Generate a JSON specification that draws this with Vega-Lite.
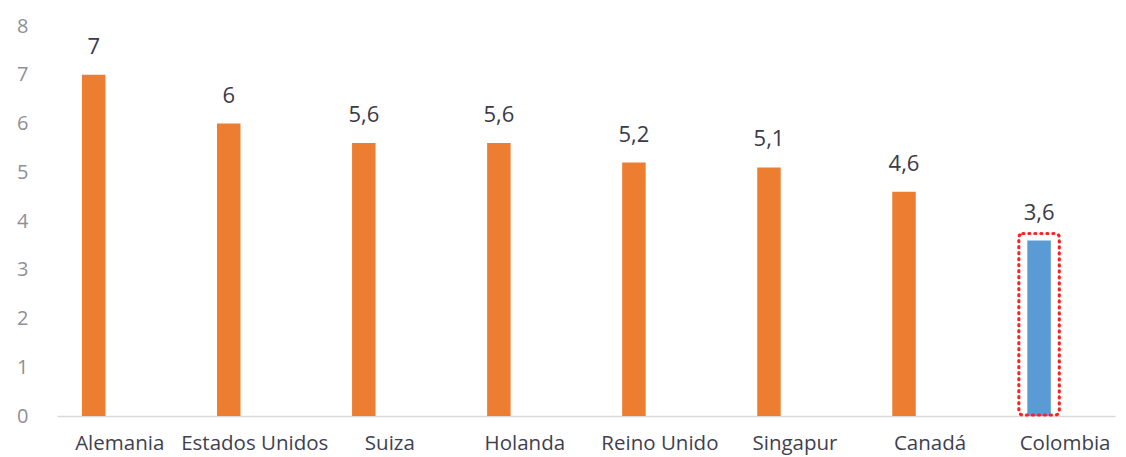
{
  "$schema": "https://vega.github.io/schema/vega-lite/v6.json",
  "autosize": "none",
  "padding": {"left": 57, "top": 26, "right": 11, "bottom": 41},
  "width": 1058,
  "height": 390,
  "background": "white",
  "config": {"view": {"stroke": null}, "font": "Open Sans"},
  "data": {"values": [
    {"pais": "Alemania", "valor": 7, "label": "7", "grupo": "otro"},
    {"pais": "Estados Unidos", "valor": 6, "label": "6", "grupo": "otro"},
    {"pais": "Suiza", "valor": 5.6, "label": "5,6", "grupo": "otro"},
    {"pais": "Holanda", "valor": 5.6, "label": "5,6", "grupo": "otro"},
    {"pais": "Reino Unido", "valor": 5.2, "label": "5,2", "grupo": "otro"},
    {"pais": "Singapur", "valor": 5.1, "label": "5,1", "grupo": "otro"},
    {"pais": "Canadá", "valor": 4.6, "label": "4,6", "grupo": "otro"},
    {"pais": "Colombia", "valor": 3.6, "label": "3,6", "grupo": "col"}
  ]},
  "encoding": {
    "x": {
      "field": "pais", "type": "nominal", "sort": null, "title": null,
      "scale": {"paddingInner": 0.826, "paddingOuter": 0.33, "align": 0.28},
      "axis": {
        "labelAngle": 0, "ticks": false, "domainColor": "#d9d9d9", "domainWidth": 1.5,
        "labelFontSize": 20.5, "labelColor": "#3f3f50", "labelPadding": 17,
        "labelOffset": 26, "labelFont": "Open Sans"
      }
    },
    "y": {
      "field": "valor", "type": "quantitative", "title": null,
      "scale": {"domain": [0, 8], "nice": false},
      "axis": {
        "values": [0, 1, 2, 3, 4, 5, 6, 7, 8], "grid": false, "domain": false, "ticks": false,
        "labelFontSize": 20, "labelColor": "#8f8f96", "labelPadding": 29, "labelFont": "Open Sans"
      }
    }
  },
  "layer": [
    {
      "mark": {"type": "bar"},
      "encoding": {
        "color": {
          "field": "grupo", "type": "nominal", "legend": null,
          "scale": {"domain": ["otro", "col"], "range": ["#ED7D31", "#5B9BD5"]}
        }
      }
    },
    {
      "transform": [{"filter": "datum.grupo === 'col'"}],
      "mark": {
        "type": "bar", "fill": null, "fillOpacity": 0, "stroke": "#FF2020", "strokeWidth": 3.2,
        "strokeDash": [1, 5], "strokeCap": "round", "width": {"band": 1.72},
        "yOffset": -7, "y2Offset": -1, "cornerRadius": 4
      },
      "encoding": {"y2": {"datum": 0}}
    },
    {
      "mark": {"type": "text", "dy": -28, "fontSize": 22, "color": "#3a3a48", "font": "Open Sans"},
      "encoding": {"text": {"field": "label"}}
    }
  ]
}
